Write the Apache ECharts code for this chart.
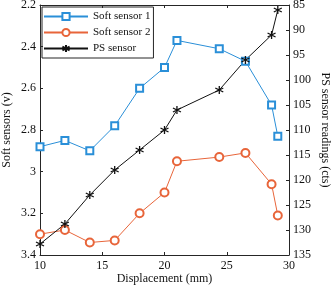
<!DOCTYPE html>
<html><head><meta charset="utf-8">
<script src="https://cdn.jsdelivr.net/npm/echarts@6/dist/echarts.min.js"></script>
<style>html,body{margin:0;padding:0;background:#fff}#c{width:331px;height:288px}</style>
</head><body><div id="c"></div>
<script>
var displacement = [10, 12, 14, 16, 18, 20, 21, 24.4, 26.5, 28.6, 29.1];
var softSensor1 = [2.88, 2.85, 2.9, 2.78, 2.6, 2.5, 2.37, 2.41, 2.47, 2.68, 2.83];
var softSensor2 = [3.3, 3.28, 3.34, 3.33, 3.2, 3.1, 2.95, 2.93, 2.91, 3.06, 3.21];
var psSensor = [132.8, 128.8, 123, 118, 114, 110, 106, 102, 96, 91, 86];
var seriesNames = ['Soft sensor 1', 'Soft sensor 2', 'PS sensor'];

function pairs(ys){ return displacement.map(function(x,i){ return [x, ys[i]]; }); }

var FONT = 'Liberation Serif';
var axisCol = '#262626';
var blue = '#2a8fd8', orange = '#e8653a';
var star = 'path://M5,0L5,10M0.7,2.5L9.3,7.5M0.7,7.5L9.3,2.5';

var chart = echarts.init(document.getElementById('c'), null, {renderer:'canvas'});
chart.setOption({
  animation: false,
  textStyle: {fontFamily: FONT},
  grid: {left: 40, right: 42, top: 5, bottom: 33, containLabel: false, outerBoundsMode: 'none'},
  legend: {
    orient: 'vertical', left: 42, top: 7,
    itemWidth: 44, itemHeight: 9, itemGap: 5,
    borderColor: axisCol, borderWidth: 1, padding: [4, 3, 4, 1],
    textStyle: {fontFamily: FONT, fontSize: 11, color: '#111'},
    data: seriesNames
  },
  xAxis: [{
    type: 'value', min: 10, max: 30, interval: 5,
    name: 'Displacement (mm)', nameLocation: 'middle', nameGap: 18, nameMoveOverlap: false,
    nameTextStyle: {fontFamily: FONT, fontSize: 12, color: '#111'},
    axisLine: {show: true, lineStyle: {color: axisCol}},
    axisTick: {inside: true, length: 3, lineStyle: {color: axisCol}},
    axisLabel: {fontFamily: FONT, fontSize: 12, color: '#111', margin: 5},
    splitLine: {show: false}
  }, {
    type: 'value', position: 'top', min: 10, max: 30, interval: 5,
    axisLine: {show: true, lineStyle: {color: axisCol}},
    axisTick: {inside: true, length: 3, lineStyle: {color: axisCol}},
    axisLabel: {show: false}, splitLine: {show: false}
  }],
  yAxis: [{
    type: 'value', inverse: true, min: 2.2, max: 3.4, interval: 0.2,
    name: 'Soft sensors (v)', nameLocation: 'middle', nameGap: 27, nameMoveOverlap: false,
    nameTextStyle: {fontFamily: FONT, fontSize: 12, color: '#111'},
    axisLine: {show: true, lineStyle: {color: axisCol}},
    axisTick: {inside: true, length: 3, lineStyle: {color: axisCol}},
    axisLabel: {fontFamily: FONT, fontSize: 12, color: '#111', margin: 4,
      formatter: function(v){ return String(Math.round(v * 10) / 10); }},
    splitLine: {show: false}
  }, {
    type: 'value', position: 'right', inverse: true, min: 85, max: 135, interval: 5,
    name: 'PS sensor readings (cts)', nameLocation: 'middle', nameGap: 30, nameRotate: -90, nameMoveOverlap: false,
    nameTextStyle: {fontFamily: FONT, fontSize: 12, color: '#111'},
    axisLine: {show: true, lineStyle: {color: axisCol}},
    axisTick: {inside: true, length: 3, lineStyle: {color: axisCol}},
    axisLabel: {fontFamily: FONT, fontSize: 12, color: '#111', margin: 4},
    splitLine: {show: false}
  }],
  series: [{
    name: seriesNames[0], type: 'line', xAxisIndex: 0, yAxisIndex: 0,
    data: pairs(softSensor1), symbol: 'emptyRect', symbolSize: 7,
    lineStyle: {color: blue, width: 1},
    itemStyle: {color: blue, borderColor: blue, borderWidth: 1.2}
  }, {
    name: seriesNames[1], type: 'line', xAxisIndex: 0, yAxisIndex: 0,
    data: pairs(softSensor2), symbol: 'emptyCircle', symbolSize: 8,
    lineStyle: {color: orange, width: 1},
    itemStyle: {color: orange, borderColor: orange, borderWidth: 1}
  }, {
    name: seriesNames[2], type: 'line', xAxisIndex: 0, yAxisIndex: 1,
    data: pairs(psSensor), symbol: star, symbolSize: 8,
    lineStyle: {color: '#111', width: 1},
    itemStyle: {color: '#111', borderColor: '#111', borderWidth: 1.3}
  }]
});
</script></body></html>
